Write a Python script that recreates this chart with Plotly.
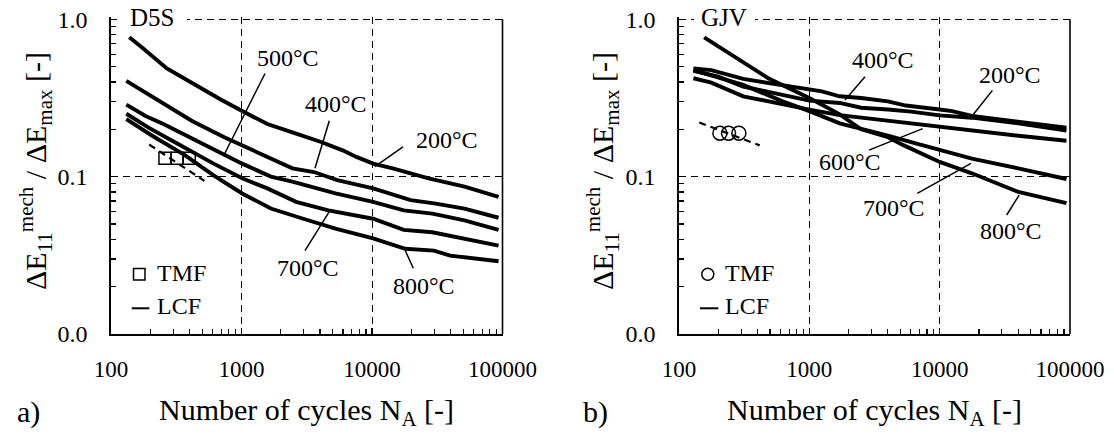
import plotly.graph_objects as go

W, H = 1114, 439
FONT = "Liberation Serif, Times New Roman, serif"

# ---------------- data: panel a) D5S ----------------
d5s_200_n = [138, 172, 268, 418, 693, 1012, 1578, 2455, 4074, 5957, 7674, 10190, 14420, 27170, 51170, 93300]
d5s_200_e = [0.768, 0.665, 0.487, 0.392, 0.309, 0.261, 0.216, 0.191, 0.166, 0.147, 0.133, 0.121, 0.113, 0.0976, 0.0863, 0.0744]
d5s_400_n = [131, 236, 418, 738, 1305, 2455, 3590, 5420, 10190, 19800, 30800, 51100, 93300]
d5s_400_e = [0.406, 0.301, 0.226, 0.178, 0.143, 0.113, 0.107, 0.095, 0.0842, 0.0709, 0.0674, 0.0627, 0.0548]
d5s_500_n = [131, 184, 252, 418, 738, 1012, 1679, 2455, 5250, 10190, 17500, 29000, 51100, 93300]
d5s_500_e = [0.287, 0.243, 0.216, 0.174, 0.137, 0.121, 0.100, 0.0929, 0.0782, 0.0692, 0.0611, 0.0582, 0.0527, 0.0459]
d5s_700_n = [131, 194, 324, 611, 1012, 1578, 2620, 4630, 10190, 17500, 29000, 51100, 93300]
d5s_700_e = [0.251, 0.205, 0.162, 0.121, 0.0976, 0.0842, 0.0692, 0.0611, 0.0540, 0.0459, 0.0443, 0.0402, 0.0364]
d5s_800_n = [131, 207, 368, 611, 1012, 1679, 2970, 5250, 10190, 18000, 29800, 39700, 93300]
d5s_800_e = [0.232, 0.182, 0.137, 0.102, 0.0782, 0.0627, 0.054, 0.0467, 0.0405, 0.0348, 0.0339, 0.0315, 0.029]
d5s_tmf_n = [259, 320, 398]
d5s_tmf_e = [0.131, 0.131, 0.131]
d5s_fit_n = [196, 520]
d5s_fit_e = [0.160, 0.094]

# ---------------- data: panel b) GJV ----------------
gjv_200_n = [129, 177, 311, 549, 1000, 1247, 1711, 2496, 4010, 5490, 10000, 12470, 17660, 40100, 94000]
gjv_200_e = [0.487, 0.475, 0.418, 0.387, 0.357, 0.348, 0.324, 0.316, 0.301, 0.283, 0.267, 0.261, 0.243, 0.224, 0.205]
gjv_400_n = [129, 200, 311, 549, 1000, 1711, 2496, 4010, 6040, 10000, 17660, 40100, 94000]
gjv_400_e = [0.471, 0.432, 0.374, 0.340, 0.304, 0.294, 0.274, 0.267, 0.259, 0.245, 0.237, 0.218, 0.196]
gjv_600_n = [129, 177, 311, 549, 1000, 1711, 2496, 4010, 6040, 10000, 17660, 40100, 94000]
gjv_600_e = [0.422, 0.396, 0.324, 0.294, 0.267, 0.246, 0.237, 0.226, 0.218, 0.208, 0.196, 0.182, 0.169]
gjv_700_n = [129, 188, 311, 624, 1000, 1711, 2496, 4010, 6040, 10000, 17660, 40100, 58500, 94000]
gjv_700_e = [0.475, 0.432, 0.383, 0.301, 0.261, 0.218, 0.200, 0.182, 0.166, 0.147, 0.130, 0.113, 0.105, 0.0966]
gjv_800_n = [156, 258, 484, 1000, 1711, 2496, 4010, 5320, 10000, 17660, 25760, 40100, 94000]
gjv_800_e = [0.768, 0.590, 0.422, 0.316, 0.249, 0.200, 0.178, 0.158, 0.124, 0.105, 0.093, 0.080, 0.0678]
gjv_tmf_n = [206, 240, 288]
gjv_tmf_e = [0.189, 0.189, 0.189]
gjv_fit_n = [143, 416]
gjv_fit_e = [0.221, 0.158]

x_tickvals = [100, 1000, 10000, 100000]
x_ticktext = ["100", "1000", "10000", "100000"]
y_tickvals = [0.01, 0.1, 1.0]
y_ticktext = ["0.0", "0.1", "1.0"]


def px(x):
    return x / W


def py(y):
    return 1 - y / H


x_minor = [m * 10 ** k for k in (2, 3, 4) for m in range(2, 10)]
y_minor = [m * 10 ** k for k in (-2, -1) for m in range(2, 10)]

fig = go.Figure()

CURVE_W = 3.9


def add_curve(n, e, xa, ya):
    fig.add_trace(go.Scatter(x=n, y=e, mode="lines", xaxis=xa, yaxis=ya,
                             line=dict(color="black", width=CURVE_W), showlegend=False,
                             hoverinfo="skip"))


# panel a
for n, e in [(d5s_200_n, d5s_200_e), (d5s_400_n, d5s_400_e), (d5s_500_n, d5s_500_e),
             (d5s_700_n, d5s_700_e), (d5s_800_n, d5s_800_e)]:
    add_curve(n, e, "x", "y")
fig.add_trace(go.Scatter(x=d5s_fit_n, y=d5s_fit_e, mode="lines", xaxis="x", yaxis="y",
                         line=dict(color="black", width=2.2, dash="7px,5px"), showlegend=False))
fig.add_trace(go.Scatter(x=d5s_tmf_n, y=d5s_tmf_e, mode="markers", xaxis="x", yaxis="y", name="TMF",
                         marker=dict(symbol="square-open", size=12, color="black", line=dict(width=1.5)),
                         showlegend=False))

# panel b
for n, e in [(gjv_200_n, gjv_200_e), (gjv_400_n, gjv_400_e), (gjv_600_n, gjv_600_e),
             (gjv_700_n, gjv_700_e), (gjv_800_n, gjv_800_e)]:
    add_curve(n, e, "x2", "y2")
fig.add_trace(go.Scatter(x=gjv_fit_n, y=gjv_fit_e, mode="lines", xaxis="x2", yaxis="y2",
                         line=dict(color="black", width=2.2, dash="7px,5px"), showlegend=False))
fig.add_trace(go.Scatter(x=gjv_tmf_n, y=gjv_tmf_e, mode="markers", xaxis="x2", yaxis="y2", name="TMF",
                         marker=dict(symbol="circle-open", size=14, color="black", line=dict(width=1.5)),
                         showlegend=False))

Y_DOM = [(H - 334) / H, (H - 17.33) / H]
Y_RANGE = [-2, 0.0125]


def xaxis_def(dom, anchor):
    return dict(type="log", range=[2, 5], domain=dom, anchor=anchor, automargin=False,
                showline=True, linecolor="black", linewidth=1.6, mirror=False,
                ticks="inside", ticklen=6, tickwidth=1.2, tickcolor="black",
                tickvals=x_tickvals, ticktext=x_ticktext,
                tickfont=dict(family=FONT, size=23, color="black"), ticklabelstandoff=14,
                showgrid=True, gridcolor="black", gridwidth=1, griddash="7px,5px",
                minor=dict(tickvals=x_minor, ticks="inside", ticklen=5, tickwidth=1.2,
                           tickcolor="black", showgrid=False),
                zeroline=False, fixedrange=True)


def yaxis_def(anchor):
    return dict(type="log", range=Y_RANGE, domain=Y_DOM, anchor=anchor, automargin=False,
                showline=True, linecolor="black", linewidth=1.6, mirror=False,
                ticks="inside", ticklen=6, tickwidth=1.2, tickcolor="black",
                tickvals=y_tickvals, ticktext=y_ticktext,
                tickfont=dict(family=FONT, size=24, color="black"), ticklabelstandoff=17,
                showgrid=True, gridcolor="black", gridwidth=1, griddash="7px,5px",
                minor=dict(tickvals=y_minor, ticks="inside", ticklen=5, tickwidth=1.2,
                           tickcolor="black", showgrid=False),
                zeroline=False, fixedrange=True)


top_frac = (0 - Y_RANGE[0]) / (Y_RANGE[1] - Y_RANGE[0])

shapes = []
for xr, yr in [("x domain", "y domain"), ("x2 domain", "y2 domain")]:
    shapes.append(dict(type="line", xref=xr, yref=yr, x0=1, x1=1, y0=0, y1=top_frac,
                       line=dict(color="black", width=1.6), layer="above"))

# white gaps behind panel names on the top gridline
for x0, x1 in [(117, 187), (694, 755)]:
    shapes.append(dict(type="rect", xref="paper", yref="paper", x0=px(x0), x1=px(x1),
                       y0=py(27), y1=py(10), fillcolor="white", line=dict(width=0), layer="above"))

# leader lines
leaders = [
    ((265, 73.5), (223.5, 156)), ((329.3, 120.7), (315, 168.3)), ((403, 146.8), (374.8, 166.7)),
    ((305, 250.7), (329.3, 211.7)), ((413.3, 268.3), (405, 250)),
    ((865, 76.7), (845, 100)), ((992.4, 90.4), (972.7, 115.3)), ((869, 150.1), (922.7, 128.6)),
    ((917.3, 193.3), (971, 163.4)), ((1006.7, 215), (1019.2, 195)),
]
for (a, b) in leaders:
    shapes.append(dict(type="line", xref="paper", yref="paper", x0=px(a[0]), y0=py(a[1]),
                       x1=px(b[0]), y1=py(b[1]), line=dict(color="black", width=1.5)))

# legend keys (drawn by hand, like the reference)
shapes.append(dict(type="rect", xref="paper", yref="paper", x0=px(133.5), x1=px(145),
                   y0=py(280), y1=py(268.5), line=dict(color="black", width=1.5), fillcolor="rgba(0,0,0,0)"))
shapes.append(dict(type="circle", xref="paper", yref="paper", x0=px(701.8), x1=px(713.8),
                   y0=py(280.2), y1=py(268.2), line=dict(color="black", width=1.5), fillcolor="rgba(0,0,0,0)"))
for x0, x1 in [(131.7, 149.3), (700, 718.3)]:
    shapes.append(dict(type="line", xref="paper", yref="paper", x0=px(x0), x1=px(x1),
                       y0=py(308.3), y1=py(308.3), line=dict(color="black", width=2)))

annotations = []


def label(text, x, y, size=24, angle=0, anchor="center"):
    annotations.append(dict(text=text, x=px(x), y=py(y), xref="paper", yref="paper",
                            showarrow=False, xanchor=anchor, yanchor="middle", textangle=angle,
                            font=dict(family=FONT, size=size, color="black")))


for t, x, y in [("500°C", 288, 58), ("400°C", 336, 104), ("200°C", 447, 140), ("700°C", 308, 268),
                ("800°C", 424, 286), ("400°C", 882.5, 60), ("200°C", 1010.3, 75.4),
                ("600°C", 850, 161.7), ("700°C", 894, 208), ("800°C", 1010.5, 231)]:
    label(t, x, y)
label("D5S", 152, 18, 25)
label("GJV", 724, 18, 25)

label("TMF", 155, 273, 24, anchor="left")
label("LCF", 155, 306, 24, anchor="left")
label("TMF", 723, 273, 24, anchor="left")
label("LCF", 723, 306, 24, anchor="left")

xtitle = "Number of cycles N<sub>A</sub> [-]"
ytitle = "ΔE<sub>11</sub><sup>mech</sup> / ΔE<sub>max</sub> [-]"
label(xtitle, 306.5, 412, 30)
label(xtitle, 874.5, 412, 30)
label(ytitle, 36, 171, 30, -90)
label(ytitle, 603, 171, 30, -90)
label("a)", 28, 412, 30)
label("b)", 595, 412, 30)

fig.update_layout(
    template="none",
    width=W, height=H, margin=dict(l=0, r=0, t=0, b=0, pad=0, autoexpand=False),
    paper_bgcolor="white", plot_bgcolor="white",
    xaxis=xaxis_def([111 / W, 502.5 / W], "y"),
    yaxis=yaxis_def("x"),
    xaxis2=xaxis_def([679 / W, 1070 / W], "y2"),
    yaxis2=yaxis_def("x2"),
    shapes=shapes, annotations=annotations,
    showlegend=False,
)

fig.write_html("out.html", config={"displayModeBar": False, "staticPlot": True},
               post_script="document.body.style.margin='0';")
